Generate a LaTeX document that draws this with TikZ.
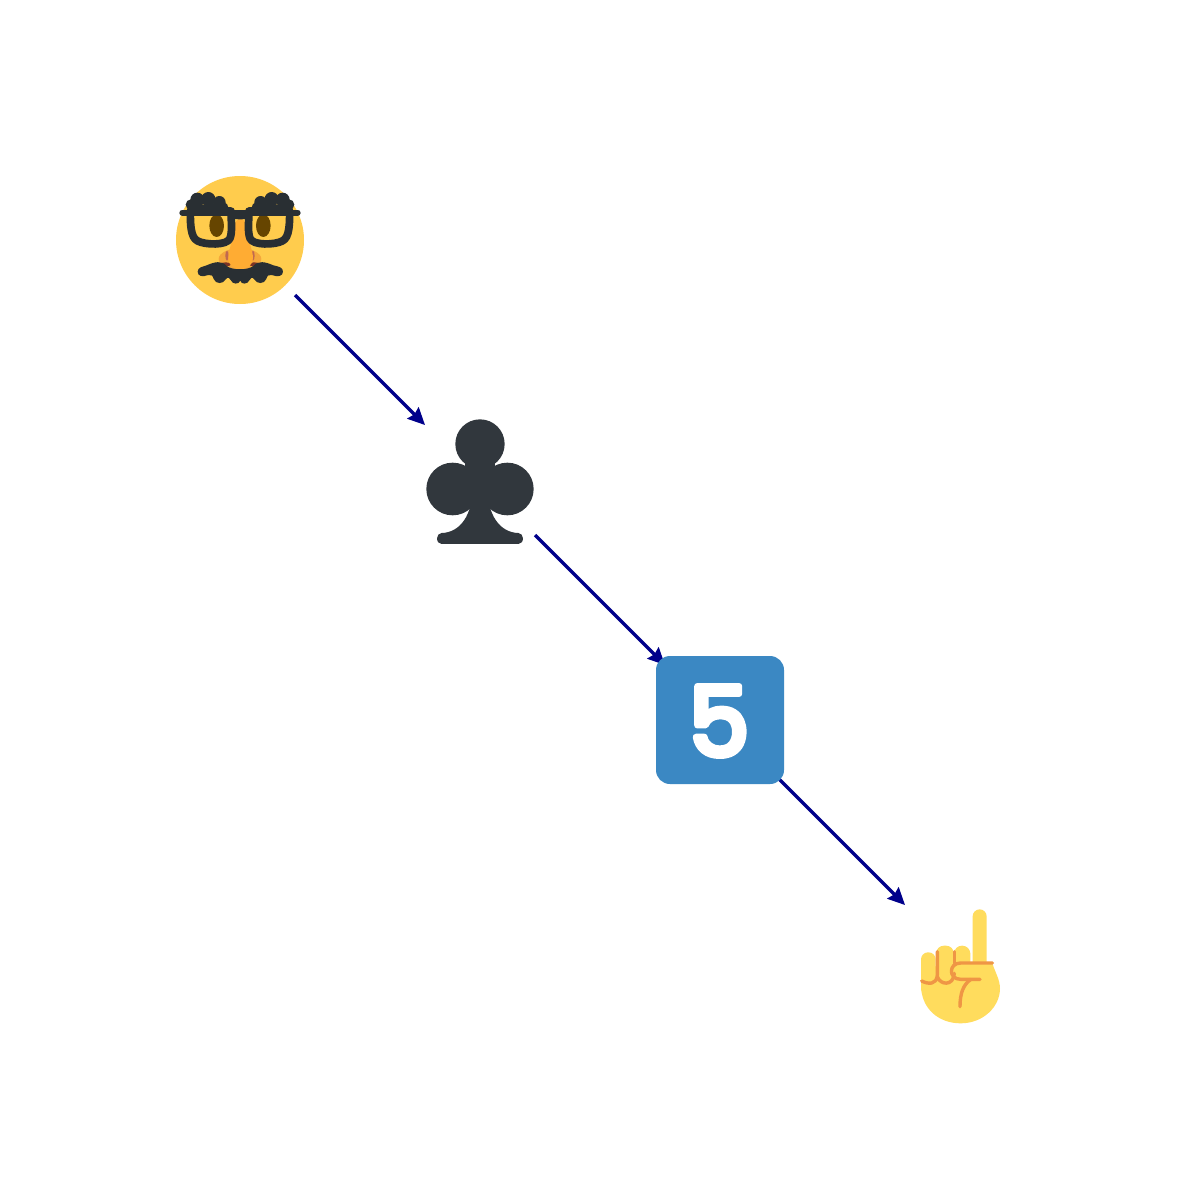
\documentclass[tikz,border=0pt]{standalone}
\usepackage{fontspec}
\usetikzlibrary{arrows.meta}
\newfontfamily\digitfont[FakeBold=6.5]{Poppins}
\definecolor{facey}{HTML}{FFCC4D}
\definecolor{darkeye}{HTML}{664500}
\definecolor{glassc}{HTML}{292F33}
\definecolor{nosec}{HTML}{FFAC33}
\definecolor{wingc}{HTML}{F4A73C}
\definecolor{nostril}{HTML}{C1694F}
\definecolor{nosedark}{HTML}{7C3325}
\definecolor{clubc}{HTML}{31373D}
\definecolor{keyc}{HTML}{3B88C3}
\definecolor{handc}{HTML}{FFDC5D}
\definecolor{handl}{HTML}{EF9645}
\definecolor{arrowc}{HTML}{00008B}
\tikzset{
  hub/.style={circle,minimum size=155.56pt,inner sep=0pt,outer sep=0pt},
  link/.style={arrowc,line width=3.2pt,-{Stealth[length=17pt,width=16pt,inset=2pt]}},
  frame/.style={glassc,line width=7.7pt,line join=round,line cap=round},
  crease/.style={handl,line width=3.4pt,line cap=round,line join=round},
}
\begin{document}
\begin{tikzpicture}[x=1pt,y=-1pt]
\useasboundingbox (0,0) rectangle (1200,1200);
\fill[white] (0,0) rectangle (1200,1200);
\node[hub] (face) at (240,240) {};
\node[hub] (club) at (480,480) {};
\node[hub] (key) at (720,720) {};
\node[hub] (hand) at (960,960) {};
\draw[link] (face) -- (club);
\draw[link] (club) -- (key);
\draw[link] (key) -- (hand);
% face
\fill[facey] (240,240) circle[radius=64];
\begin{scope}[shift={(165,165)},x=0.3333pt,y=-0.3333pt]
  \fill[darkeye] (155,182) ellipse[x radius=22,y radius=34];
  \fill[darkeye] (295,182) ellipse[x radius=22,y radius=34];
  % nose
  \fill[wingc] (225,282) ellipse[x radius=64,y radius=32];
  \fill[nostril] (186,272) ellipse[x radius=5,y radius=15];
  \fill[nostril] (264,272) ellipse[x radius=5,y radius=15];
  \fill[nosedark] (182,298) ellipse[x radius=16,y radius=6];
  \fill[nosedark] (268,298) ellipse[x radius=16,y radius=6];
  \fill[nosec] (226,162) .. controls (240,162) and (244,175) .. (245,195)
     .. controls (248,225) and (264,255) .. (264,280)
     .. controls (264,300) and (246,313) .. (226,313)
     .. controls (206,313) and (190,300) .. (190,280)
     .. controls (190,255) and (204,225) .. (207,195)
     .. controls (208,175) and (212,162) .. (226,162) -- cycle;
  % moustache
  \fill[glassc] (98,320) .. controls (98,306) and (115,305) .. (125,301)
     .. controls (150,290) and (170,286) .. (185,303)
     .. controls (200,316) and (250,316) .. (265,303)
     .. controls (280,286) and (300,290) .. (325,301)
     .. controls (340,305) and (354,306) .. (354,320)
     .. controls (354,334) and (338,337) .. (320,330)
     .. controls (312,328) and (306,332) .. (304,342)
     .. controls (298,358) and (275,358) .. (268,343)
     .. controls (262,335) and (256,338) .. (254,345)
     .. controls (248,359) and (228,359) .. (226,347)
     .. controls (222,359) and (202,359) .. (197,345)
     .. controls (195,338) and (188,335) .. (182,343)
     .. controls (175,358) and (152,358) .. (146,342)
     .. controls (144,332) and (138,328) .. (130,330)
     .. controls (112,337) and (98,334) .. (98,320) -- cycle;
  % brows
  \foreach \bx/\by/\br in {78/119/16,97/104/21,130/102/21,163/112/19,176/127/14,
                           372/119/16,353/104/21,320/102/21,287/112/19,274/127/14}
    \fill[glassc] (\bx,\by) circle[radius=\br];
  \fill[glassc] (72,122) -- (180,112) -- (196,145) -- (66,145) -- cycle;
  \fill[glassc] (378,122) -- (270,112) -- (254,145) -- (384,145) -- cycle;
  % glasses
  \draw[glassc,line width=6pt,line cap=round] (52,143) -- (398,143);
  \draw[frame] (76,138) .. controls (76,175) and (76,218) .. (98,228)
     .. controls (120,240) and (187,242) .. (195,220)
     .. controls (203,200) and (198,165) .. (198,138) -- cycle;
  \draw[frame] (374,138) .. controls (374,175) and (374,218) .. (352,228)
     .. controls (330,240) and (263,242) .. (255,220)
     .. controls (247,200) and (252,165) .. (252,138) -- cycle;
  \fill[glassc] (183,125) .. controls (200,140) and (250,140) .. (267,125)
     -- (262,150) .. controls (250,162) and (240,163) .. (226,163)
     .. controls (212,163) and (200,162) .. (188,150) -- cycle;
\end{scope}
% club
\begin{scope}[shift={(415,410)},x=0.3333pt,y=-0.3333pt]
  \fill[clubc] (195,102) circle[radius=74];
  \fill[clubc] (113,237) circle[radius=79];
  \fill[clubc] (277,237) circle[radius=79];
  \fill[clubc] (150,150) -- (240,150) -- (240,240) -- (150,240) -- cycle;
  \fill[clubc] (172,230) -- (218,230)
     .. controls (216,315) and (255,368) .. (310,369)
     .. controls (318,369) and (324,377) .. (324,385)
     .. controls (324,395) and (318,402) .. (310,402)
     -- (80,402) .. controls (72,402) and (66,395) .. (66,385)
     .. controls (66,377) and (72,369) .. (80,369)
     .. controls (135,368) and (174,315) .. (172,230) -- cycle;
\end{scope}
% keycap
\fill[keyc,rounded corners=14pt] (656,656) rectangle (784,784);
\node[white,inner sep=0pt,font={\digitfont\fontsize{96}{96}\selectfont}] (five) at (719,721) {\special{pdf:code 1 j 1 J}5};
% hand
\begin{scope}[shift={(905,895)},x=0.3333pt,y=-0.3333pt]
  \fill[handc,rounded corners=7pt] (203,43) rectangle (245,240);
  \fill[handc,rounded corners=7pt] (48,172) rectangle (92,300);
  \fill[handc,rounded corners=8pt] (93,152) rectangle (147,300);
  \fill[handc,rounded corners=8pt] (147,152) rectangle (196,300);
  \fill[handc] (48,260) -- (48,270) .. controls (48,340) and (100,385) .. (167,385)
     .. controls (235,385) and (285,335) .. (285,280)
     .. controls (285,255) and (270,230) .. (262,205) -- (100,205) -- (48,260) -- cycle;
  \draw[crease] (50,258) .. controls (70,268) and (95,270) .. (97,240) -- (97,170);
  \draw[crease] (97,245) .. controls (105,270) and (145,275) .. (148,235);
  \draw[crease] (149,170) -- (149,205);
  \draw[crease] (262,204) -- (167,204) .. controls (130,204) and (130,253) .. (167,253) -- (225,253);
  \draw[crease] (198,253) .. controls (175,268) and (165,295) .. (165,335);
\end{scope}
\end{tikzpicture}
\end{document}
